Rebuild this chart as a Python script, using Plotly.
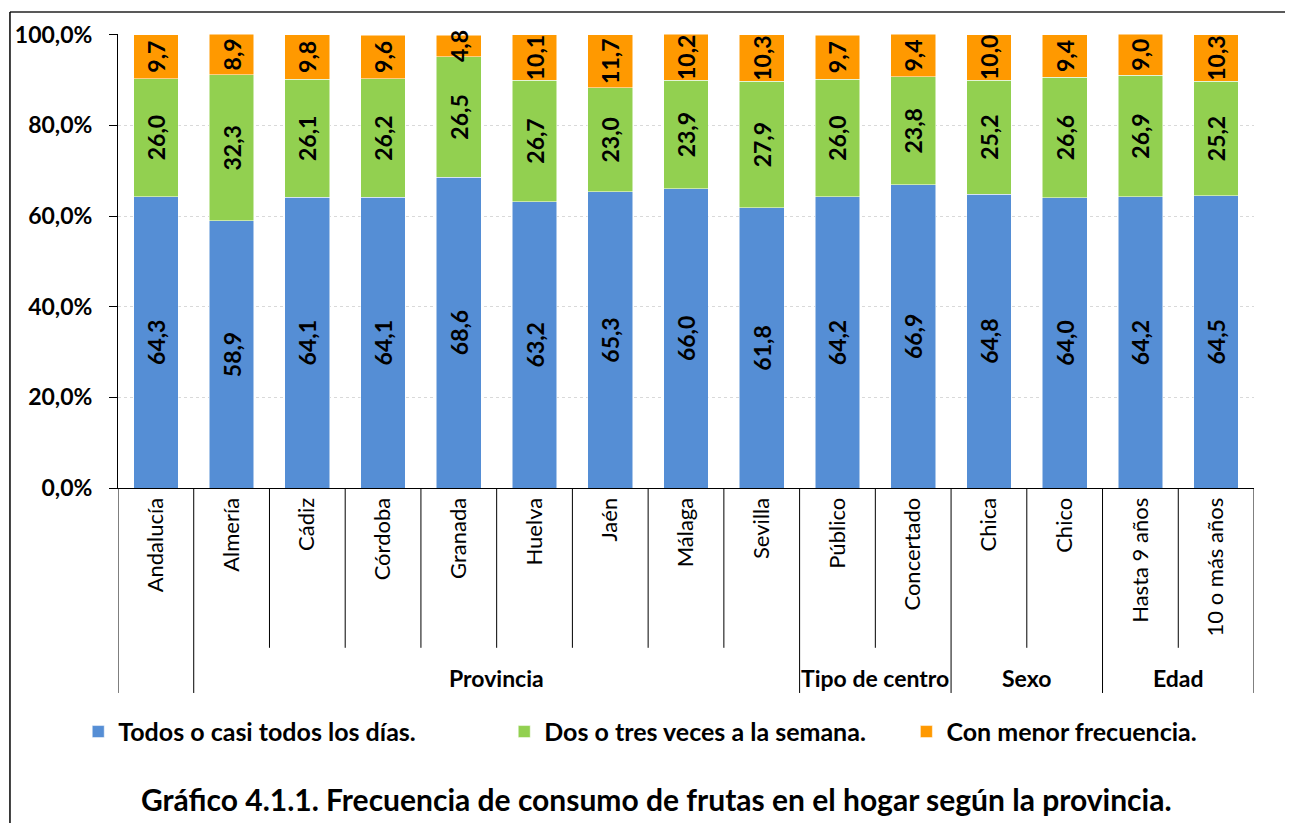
import plotly.graph_objects as go

# Categories and groups
categorias = ['Andalucía', 'Almería', 'Cádiz', 'Córdoba', 'Granada', 'Huelva', 'Jaén',
              'Málaga', 'Sevilla', 'Público', 'Concertado', 'Chica', 'Chico',
              'Hasta 9 años', '10 o más años']
grupos = [('', 0, 0), ('Provincia', 1, 8), ('Tipo de centro', 9, 10),
          ('Sexo', 11, 12), ('Edad', 13, 14)]

# Series values (%)
todos_dias = [64.3, 58.9, 64.1, 64.1, 68.6, 63.2, 65.3, 66.0, 61.8, 64.2, 66.9, 64.8, 64.0, 64.2, 64.5]
dos_tres = [26.0, 32.3, 26.1, 26.2, 26.5, 26.7, 23.0, 23.9, 27.9, 26.0, 23.8, 25.2, 26.6, 26.9, 25.2]
menor_frec = [9.7, 8.9, 9.8, 9.6, 4.8, 10.1, 11.7, 10.2, 10.3, 9.7, 9.4, 10.0, 9.4, 9.0, 10.3]

y_ticks = [0, 20, 40, 60, 80, 100]

series = [('Todos o casi todos los días.', todos_dias, '#558ED5', 'legend', -0.035),
          ('Dos o tres veces a la semana.', dos_tres, '#92D050', 'legend2', 0.340),
          ('Con menor frecuencia.', menor_frec, '#FF9900', 'legend3', 0.694)]

FONT = 'Lato'

fig = go.Figure()
for nombre, vals, color, leg, _ in series:
    fig.add_trace(go.Bar(
        x=categorias, y=vals, name=nombre, legend=leg,
        marker=dict(color=color, line=dict(color='white', width=0.5)),
        texttemplate='%{y:.1f}', textposition='inside', insidetextanchor='middle',
        textangle=-90, constraintext='none', cliponaxis=False,
        textfont=dict(family=FONT, size=23, color='black', weight='bold'),
    ))

# multi-level axis drawn by hand: dividers and group labels
shapes = []
ancho = len(categorias)
for i in range(ancho + 1):
    largo = any(i == g[1] for g in grupos) or i == ancho
    shapes.append(dict(type='line', xref='x', yref='paper', x0=i - 0.5, x1=i - 0.5,
                       y0=0, y1=-0.4515 if largo else -0.352,
                       line=dict(color='black', width=1)))
# outer frame
shapes.append(dict(type='line', xref='paper', yref='paper', x0=-0.0951, x1=1.04,
                   y0=1.0485, y1=1.0485, line=dict(color='#595959', width=2)))
shapes.append(dict(type='line', xref='paper', yref='paper', x0=-0.0951, x1=-0.0951,
                   y0=1.0485, y1=-0.75, line=dict(color='black', width=1.5)))

annotations = []
for nombre, a, b in grupos:
    if nombre:
        annotations.append(dict(text=nombre, x=(a + b) / 2, xref='x', y=-0.4185, yref='paper',
                                showarrow=False, yanchor='middle',
                                font=dict(family=FONT, size=23, color='black', weight='bold')))
annotations.append(dict(text='Gráfico 4.1.1. Frecuencia de consumo de frutas en el hogar según la provincia.',
                        x=0.474, xref='paper', y=-0.686, yref='paper', showarrow=False,
                        yanchor='middle',
                        font=dict(family=FONT, size=30, color='black', weight='bold')))

leg_font = dict(family=FONT, size=25, color='black', weight='bold')
legends = {}
for _, _, _, leg, lx in series:
    legends[leg] = dict(orientation='h', x=lx, xanchor='left', y=-0.537, yanchor='middle',
                        font=leg_font, bgcolor='rgba(0,0,0,0)')

# page body has an 8px margin, so the figure is offset by 8px
fig.update_layout(
    barmode='stack', bargap=0.41, separators=',.',
    width=1285, height=815,
    margin=dict(l=110, r=39, t=26, b=335),
    paper_bgcolor='white', plot_bgcolor='white',
    font=dict(family=FONT, color='black'),
    showlegend=True,
    shapes=shapes, annotations=annotations,
    **legends,
)
fig.update_xaxes(showline=True, linecolor='black', linewidth=1, ticks='',
                 tickangle=-90, tickfont=dict(family=FONT, size=22, color='black'),
                 showgrid=False, range=[-0.5, ancho - 0.5], automargin=False)
fig.update_yaxes(range=[0, 100.15], tickvals=y_ticks,
                 ticktext=[f'{v:.1f}%'.replace('.', ',') for v in y_ticks],
                 showline=True, linecolor='black', linewidth=1,
                 ticks='outside', ticklen=8, tickcolor='black', ticklabelstandoff=12,
                 tickfont=dict(family=FONT, size=23, color='black', weight='bold'),
                 showgrid=True, gridcolor='#D9D9D9', griddash='dot', gridwidth=1,
                 zeroline=False, automargin=False)

fig.write_html('out.html')
